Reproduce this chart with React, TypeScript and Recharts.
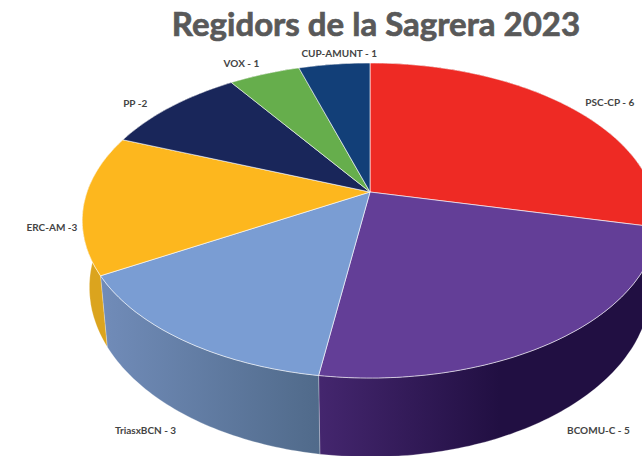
import { Pie, PieChart } from "recharts"

const parties = ["PSC-CP", "BCOMU-C", "TriasxBCN", "ERC-AM", "PP", "VOX", "CUP-AMUNT"]
const seats = [6, 5, 3, 3, 2, 1, 1]
const labels = ["PSC-CP - 6", "BCOMU-C - 5", "TriasxBCN - 3", "ERC-AM -3", "PP -2", "VOX - 1", "CUP-AMUNT - 1"]

const topColors = ["#ee2a24", "#633e97", "#7a9dd3", "#fdb71e", "#19265a", "#66ae4c", "#123f78"]
const wallColors = ["#8f1512", "url(#wallPurple)", "url(#wallBlue)", "#dba41e", "#10183a", "#417030", "#0b2850"]
// nudges from the rim midpoint of each slice to its label centre
const labelNudges = [[41, -5], [41, 90], [-37, 90], [-32, 23], [-36, -4], [-23, -11], [5, -11]]

const data = parties.map((name, i) => ({ name, value: seats[i], label: labels[i], i }))

const WIDTH = 642
const HEIGHT = 456
const CX = 370
const CY = 192
const RADIUS = 283

// the pie is tilted in perspective, so a point of the unit disc goes through a homography
const TILT = -0.181
const SQUASH = 117.6
const WALL_RADIUS = 276
const WALL_DROP = 64.6

function rim(angle: number, lower = false) {
  const t = ((90 - angle) * Math.PI) / 180
  const u = Math.sin(t)
  const v = -Math.cos(t)
  const den = 1 + TILT * v
  const r = lower ? WALL_RADIUS : RADIUS
  const drop = lower ? WALL_DROP : 0
  return { x: CX + (r * u) / den, y: (SQUASH * v + CY + drop) / den }
}

function arc(from: number, to: number, lower = false) {
  const pts = []
  const steps = Math.max(2, Math.ceil(Math.abs(from - to)))
  for (let s = 0; s <= steps; s++) {
    const p = rim(from + ((to - from) * s) / steps, lower)
    pts.push(`${p.x.toFixed(1)} ${p.y.toFixed(1)}`)
  }
  return pts
}

function TopSlice(props: any) {
  const d = `M${CX} ${CY} L${arc(props.startAngle, props.endAngle).join(" L")} Z`
  return <path d={d} fill={topColors[props.payload?.i ?? props.i]} stroke="#ffffff" strokeOpacity={0.6} strokeWidth={1} />
}

function WallSlice(props: any) {
  const top = arc(props.startAngle, props.endAngle)
  const bottom = arc(props.endAngle, props.startAngle, true)
  const d = `M${top.join(" L")} L${bottom.join(" L")} Z`
  return <path d={d} fill={wallColors[props.payload?.i ?? props.i]} stroke="#ffffff" strokeOpacity={0.35} strokeWidth={0.7} />
}

function sliceLabel(props: any) {
  const i = props.payload?.i ?? props.i ?? props.index
  const p = rim(props.midAngle)
  return (
    <text
      x={p.x + labelNudges[i][0]}
      y={p.y + labelNudges[i][1]}
      textAnchor="middle"
      dominantBaseline="central"
      fontFamily="Lato"
      fontWeight={700}
      fontSize={10}
      fill="#444444"
    >
      {labels[i]}
    </text>
  )
}

export default function App() {
  return (
    <div style={{ position: "absolute", left: 0, top: 0, width: WIDTH, height: HEIGHT, background: "#fff", overflow: "hidden" }}>
      <PieChart width={WIDTH} height={HEIGHT} margin={{ top: 0, right: 0, bottom: 0, left: 0 }}>
        <defs>
          <linearGradient id="wallBlue" gradientUnits="userSpaceOnUse" x1="100" y1="0" x2="320" y2="0">
            <stop offset="0%" stopColor="#718cb9" />
            <stop offset="100%" stopColor="#506a8a" />
          </linearGradient>
          <linearGradient id="wallPurple" gradientUnits="userSpaceOnUse" x1="320" y1="0" x2="500" y2="0">
            <stop offset="0%" stopColor="#44266e" />
            <stop offset="100%" stopColor="#210f42" />
          </linearGradient>
        </defs>
        <text
          x={376}
          y={36}
          textAnchor="middle"
          fontFamily="Lato"
          fontWeight={700}
          fontSize={33}
          fill="#595959"
          stroke="#595959"
          strokeWidth={0.7}
        >
          Regidors de la Sagrera 2023
        </text>
        <Pie
          data={data}
          dataKey="value"
          nameKey="name"
          cx={CX}
          cy={CY}
          outerRadius={RADIUS}
          startAngle={90}
          endAngle={-270}
          shape={WallSlice}
          isAnimationActive={false}
          label={false}
          labelLine={false}
        />
        <Pie
          data={data}
          dataKey="value"
          nameKey="name"
          cx={CX}
          cy={CY}
          outerRadius={RADIUS}
          startAngle={90}
          endAngle={-270}
          shape={TopSlice}
          isAnimationActive={false}
          label={sliceLabel}
          labelLine={false}
        />
      </PieChart>
    </div>
  )
}
